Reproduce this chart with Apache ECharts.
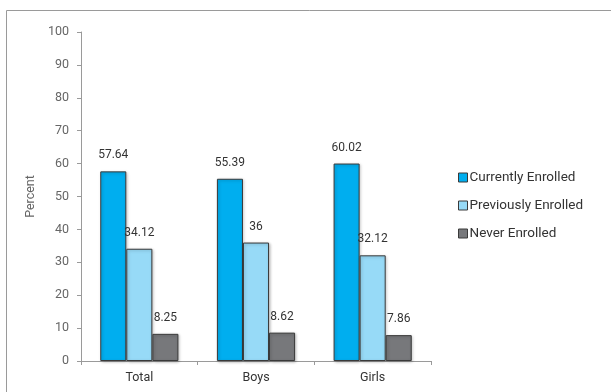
<!DOCTYPE html>
<html><head><meta charset="utf-8">
<script src="https://cdn.jsdelivr.net/npm/echarts@6/dist/echarts.min.js"></script>
<style>html,body{margin:0;padding:0;background:#fff}#c{width:611px;height:392px}</style>
</head><body><div id="c"></div>
<script>
const categories = ['Total', 'Boys', 'Girls'];
const currentlyEnrolled = [57.64, 55.39, 60.02];
const previouslyEnrolled = [34.12, 36, 32.12];
const neverEnrolled = [8.25, 8.62, 7.86];
const seriesNames = ['Currently Enrolled', 'Previously Enrolled', 'Never Enrolled'];

const colors = ['#00AEEF', '#97DAF7', '#77787B'];
const font = 'Roboto';
function mk(name, data, color) {
  return {
    name, type: 'bar', data, barGap: '0%', barCategoryGap: '33%',
    itemStyle: { color, borderColor: '#3a3a3a', borderWidth: 1,
      shadowColor: 'rgba(0,0,0,0.25)', shadowBlur: 3, shadowOffsetX: 1, shadowOffsetY: 1 },
    label: { show: true, position: 'top', distance: 10, color: '#333', fontSize: 12, fontFamily: font }
  };
}
const chart = echarts.init(document.getElementById('c'));
chart.setOption({
  animation: false,
  color: colors,
  graphic: [{ type: 'rect', shape: { x: 6.5, y: 10.5, width: 700, height: 500 },
    style: { fill: 'none', stroke: '#9a9a9a', lineWidth: 1 }, silent: true, z: -1 }],
  grid: { left: 81, right: 180, top: 32, bottom: 31 },
  legend: {
    orient: 'vertical', left: 453, top: 165, itemGap: 13, itemWidth: 9, itemHeight: 9,
    icon: 'rect',
    textStyle: { color: '#333', fontSize: 13.5, fontFamily: font, padding: [0, 0, 0, -3], lineHeight: 15 },
    data: seriesNames.map((n, i) => ({ name: n, itemStyle: { borderColor: '#3a3a3a', borderWidth: 1 } }))
  },
  xAxis: {
    type: 'category', data: categories,
    axisLine: { lineStyle: { color: '#9a9a9a' } },
    axisTick: { show: true, length: 4, lineStyle: { color: '#9a9a9a' } },
    axisLabel: { color: '#333', fontSize: 12.5, fontFamily: font, margin: 10 }
  },
  yAxis: {
    type: 'value', min: 0, max: 100, interval: 10,
    name: 'Percent', nameLocation: 'middle', nameGap: 44,
    nameTextStyle: { color: '#666', fontSize: 12.5, fontFamily: font },
    axisLine: { show: true, lineStyle: { color: '#9a9a9a' } },
    axisTick: { show: true, length: 4, lineStyle: { color: '#9a9a9a' } },
    splitLine: { show: false },
    axisLabel: { color: '#666', fontSize: 12.5, fontFamily: font, margin: 12 }
  },
  series: [
    mk(seriesNames[0], currentlyEnrolled, colors[0]),
    mk(seriesNames[1], previouslyEnrolled, colors[1]),
    mk(seriesNames[2], neverEnrolled, colors[2])
  ]
});
</script></body></html>
